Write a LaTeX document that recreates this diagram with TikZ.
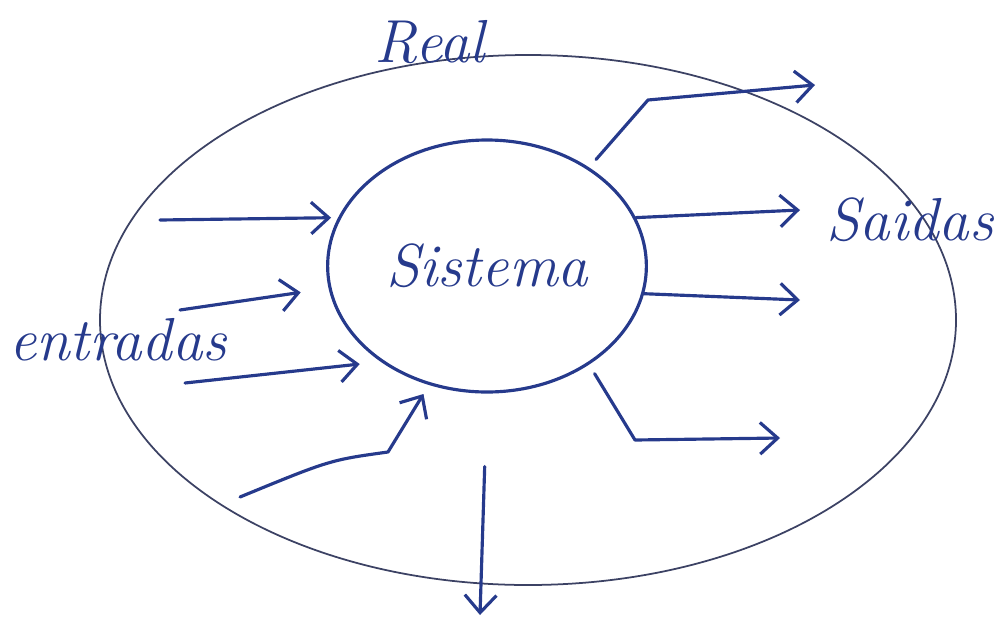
\documentclass[tikz,border=0pt]{standalone}
\usetikzlibrary{shapes.geometric,arrows.meta}
\definecolor{inkblue}{RGB}{38,58,140}
\definecolor{rimgray}{RGB}{60,66,100}
\begin{document}
\begin{tikzpicture}[
ink/.style={draw=inkblue,line width=0.9pt,line cap=round,line join=round},
flow/.style={ink,-{Straight Barb[length=5pt,width=9pt]}},
every node/.style={text=inkblue,font=\LARGE\itshape}
]
\useasboundingbox (0,0) rectangle (10.05,-6.29);
\node[ellipse,draw=rimgray,line width=0.5pt,minimum width=8.56cm,minimum height=5.3cm] (real) at (5.28,-3.2) {};
\node[ellipse,ink,minimum width=3.06cm,minimum height=2.52cm] (sis) at (4.87,-2.66) {Sistema};
\node (reallbl) at (4.3,-0.42) {Real};
\node (ent) at (1.18,-3.4) {entradas};
\node (sai) at (9.1,-2.2) {Saidas};

% entradas
\coordinate (e1) at (1.6,-2.2);
\coordinate (e2) at (1.8,-3.1);
\coordinate (e3) at (1.85,-3.83);
\coordinate (e4) at (2.4,-4.97);
\draw[flow,shorten >=2pt] (e1) -- (sis.162);
\draw[flow,shorten >=8pt] (e2) -- (sis.188);
\draw[flow,shorten >=6pt] (e3) -- (sis.222);
\draw[flow,shorten >=3pt] (e4) .. controls (3.3,-4.6) .. (3.88,-4.52) -- (sis.244);

% saidas
\coordinate (s1) at (8.15,-0.85);
\coordinate (s2) at (8.0,-2.1);
\coordinate (s3) at (8.0,-3.0);
\coordinate (s4) at (7.8,-4.38);
\coordinate (s5) at (4.8,-6.15);
\draw[flow,shorten <=3pt] (sis.44) -- (6.48,-1.0) -- (s1);
\draw[flow] (sis.18) -- (s2);
\draw[flow] (sis.350) -- (s3);
\draw[flow,shorten <=3pt] (sis.316) -- (6.35,-4.4) -- (s4);
\draw[flow,shorten <=0.73cm] (sis.south) -- (s5);
\end{tikzpicture}
\end{document}
